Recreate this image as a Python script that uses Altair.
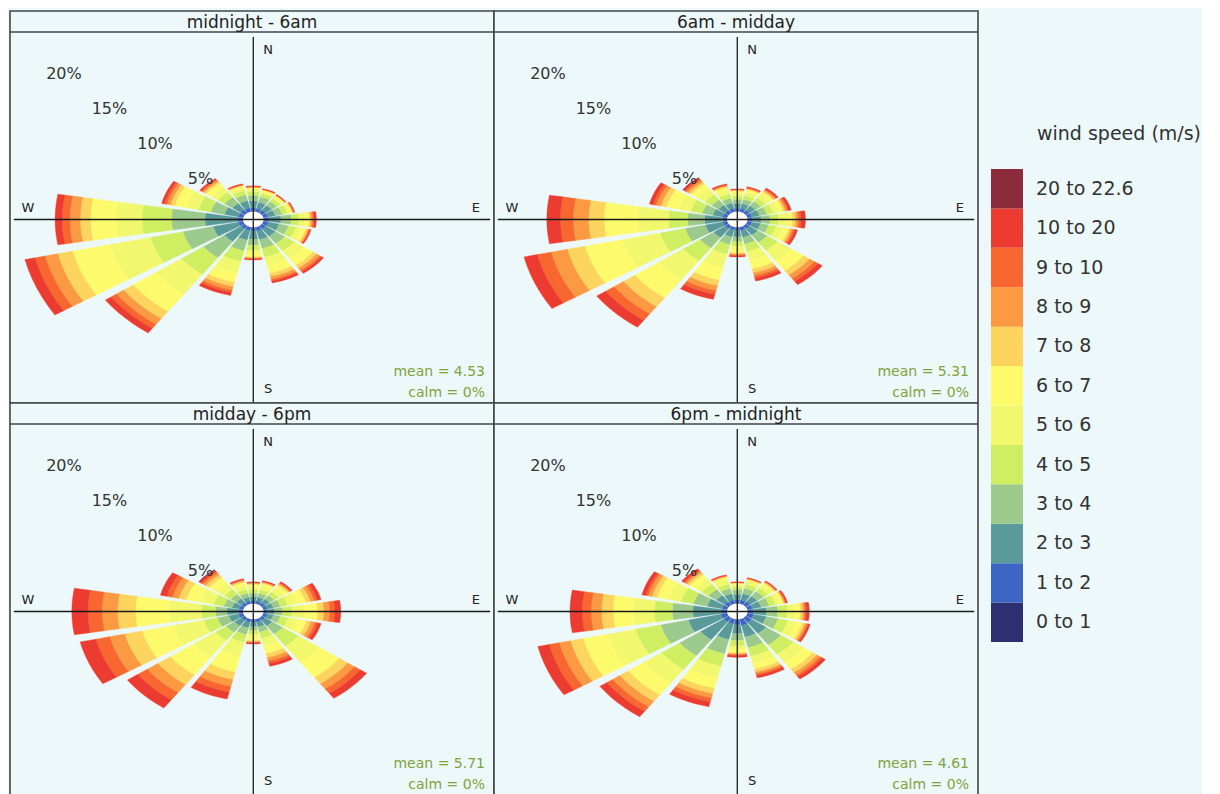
import altair as alt
import pandas as pd

# ---------------- data ----------------
panels = ["midnight - 6am", "6am - midday", "midday - 6pm", "6pm - midnight"]
means = [4.53, 5.31, 5.71, 4.61]
calms = [0, 0, 0, 0]
directions = [0, 22.5, 45, 67.5, 90, 112.5, 135, 157.5, 180, 202.5, 225, 247.5, 270, 292.5, 315, 337.5]
speed_bins = ["0 to 1", "1 to 2", "2 to 3", "3 to 4", "4 to 5", "5 to 6", "6 to 7",
              "7 to 8", "8 to 9", "9 to 10", "10 to 20", "20 to 22.6"]
bin_colours = ["#2e2f70", "#3d66c4", "#5b9a9b", "#9cc98c", "#d0ee62", "#f2f86e", "#fdfb6c",
               "#fdd55e", "#fb9a42", "#f7672f", "#ec3b30", "#8c2b3b"]
grid_pct = [5, 10, 15, 20]
compass = ["N", "E", "S", "W"]
compass_bearing = [0, 90, 180, 270]

# % frequency per direction (rows follow `directions`) and speed bin (columns follow `speed_bins`)
freq_p1 = [
    [0.05, 0.35, 0.70, 0.55, 0.40, 0.25, 0.12, 0.06, 0.04, 0.03, 0.05, 0],
    [0.05, 0.30, 0.65, 0.55, 0.35, 0.22, 0.12, 0.05, 0.04, 0.03, 0.04, 0],
    [0.05, 0.30, 0.60, 0.50, 0.35, 0.22, 0.12, 0.05, 0.04, 0.03, 0.04, 0],
    [0.05, 0.30, 0.60, 0.55, 0.40, 0.25, 0.14, 0.06, 0.05, 0.04, 0.06, 0],
    [0.05, 0.40, 0.90, 0.80, 0.60, 0.45, 0.35, 0.15, 0.12, 0.10, 0.18, 0],
    [0.05, 0.35, 0.85, 0.75, 0.60, 0.45, 0.35, 0.14, 0.10, 0.07, 0.09, 0],
    [0.05, 0.35, 0.90, 0.90, 0.90, 0.95, 0.85, 0.35, 0.28, 0.17, 0.20, 0],
    [0.05, 0.35, 0.90, 0.90, 0.90, 0.90, 0.80, 0.35, 0.28, 0.17, 0.20, 0],
    [0.05, 0.35, 0.80, 0.60, 0.50, 0.40, 0.30, 0.10, 0.07, 0.05, 0.08, 0],
    [0.05, 0.30, 1.00, 1.10, 1.10, 1.20, 1.00, 0.45, 0.35, 0.25, 0.30, 0],
    [0.05, 0.30, 1.60, 2.00, 2.10, 2.40, 2.20, 0.90, 0.70, 0.50, 0.55, 0],
    [0.05, 0.35, 2.00, 2.40, 2.60, 3.20, 3.00, 1.20, 1.00, 0.80, 0.80, 0],
    [0.05, 0.40, 2.50, 2.60, 2.30, 2.00, 2.00, 0.80, 0.80, 0.60, 0.55, 0],
    [0.05, 0.35, 1.10, 1.10, 1.00, 1.00, 0.85, 0.35, 0.28, 0.20, 0.22, 0],
    [0.05, 0.35, 0.80, 0.75, 0.65, 0.60, 0.50, 0.20, 0.15, 0.10, 0.15, 0],
    [0.05, 0.35, 0.75, 0.60, 0.45, 0.30, 0.18, 0.07, 0.05, 0.04, 0.06, 0],
]
freq_p2 = [
    [0.05, 0.30, 0.50, 0.40, 0.35, 0.30, 0.20, 0.07, 0.05, 0.03, 0.05, 0],
    [0.05, 0.30, 0.50, 0.45, 0.40, 0.35, 0.25, 0.10, 0.07, 0.05, 0.08, 0],
    [0.05, 0.30, 0.55, 0.55, 0.45, 0.40, 0.30, 0.15, 0.12, 0.10, 0.13, 0],
    [0.05, 0.30, 0.60, 0.60, 0.50, 0.45, 0.35, 0.18, 0.15, 0.12, 0.20, 0],
    [0.05, 0.30, 0.70, 0.70, 0.65, 0.60, 0.50, 0.25, 0.20, 0.20, 0.35, 0],
    [0.05, 0.30, 0.70, 0.65, 0.60, 0.55, 0.45, 0.20, 0.15, 0.15, 0.20, 0],
    [0.05, 0.30, 0.80, 0.90, 1.00, 1.30, 1.20, 0.55, 0.45, 0.35, 0.40, 0],
    [0.05, 0.30, 0.70, 0.70, 0.80, 0.90, 0.90, 0.40, 0.30, 0.25, 0.30, 0],
    [0.05, 0.30, 0.60, 0.50, 0.45, 0.40, 0.30, 0.12, 0.10, 0.08, 0.10, 0],
    [0.05, 0.25, 0.70, 0.80, 1.00, 1.40, 1.30, 0.60, 0.50, 0.40, 0.50, 0],
    [0.05, 0.30, 1.10, 1.30, 1.60, 2.30, 2.30, 1.10, 0.90, 0.80, 0.85, 0],
    [0.05, 0.30, 1.40, 1.60, 2.00, 3.00, 3.00, 1.40, 1.30, 1.10, 1.05, 0],
    [0.05, 0.30, 1.40, 1.30, 1.50, 2.40, 2.60, 1.20, 1.20, 1.00, 1.05, 0],
    [0.05, 0.30, 0.80, 0.85, 0.90, 1.00, 0.95, 0.45, 0.35, 0.25, 0.30, 0],
    [0.05, 0.30, 0.65, 0.65, 0.65, 0.70, 0.60, 0.25, 0.20, 0.15, 0.15, 0.05],
    [0.05, 0.30, 0.55, 0.50, 0.45, 0.40, 0.30, 0.12, 0.08, 0.06, 0.09, 0],
]
freq_p3 = [
    [0.05, 0.25, 0.40, 0.35, 0.35, 0.30, 0.25, 0.10, 0.06, 0.04, 0.05, 0],
    [0.05, 0.25, 0.40, 0.40, 0.35, 0.35, 0.30, 0.11, 0.07, 0.05, 0.07, 0],
    [0.05, 0.25, 0.45, 0.45, 0.45, 0.45, 0.35, 0.15, 0.10, 0.08, 0.12, 0],
    [0.05, 0.25, 0.50, 0.55, 0.60, 0.75, 0.70, 0.35, 0.30, 0.25, 0.30, 0],
    [0.05, 0.25, 0.55, 0.60, 0.75, 1.00, 1.00, 0.50, 0.45, 0.40, 0.45, 0],
    [0.05, 0.25, 0.50, 0.55, 0.65, 0.75, 0.70, 0.35, 0.30, 0.22, 0.28, 0],
    [0.05, 0.25, 0.70, 1.00, 1.50, 2.00, 1.90, 0.80, 0.65, 0.55, 0.60, 0],
    [0.05, 0.25, 0.50, 0.55, 0.65, 0.80, 0.80, 0.40, 0.35, 0.25, 0.30, 0],
    [0.05, 0.25, 0.45, 0.40, 0.35, 0.35, 0.30, 0.12, 0.08, 0.06, 0.09, 0],
    [0.05, 0.25, 0.60, 0.70, 0.80, 1.50, 1.60, 0.80, 0.70, 0.60, 0.70, 0],
    [0.05, 0.25, 0.70, 0.80, 1.00, 2.10, 2.20, 1.20, 1.00, 0.90, 1.00, 0],
    [0.05, 0.30, 0.80, 0.90, 1.10, 2.40, 2.50, 1.40, 1.20, 1.10, 1.25, 0],
    [0.05, 0.30, 0.90, 0.90, 1.10, 2.50, 2.60, 1.40, 1.20, 1.10, 1.25, 0],
    [0.05, 0.25, 0.60, 0.65, 0.80, 1.10, 1.10, 0.60, 0.50, 0.45, 0.50, 0],
    [0.05, 0.25, 0.50, 0.55, 0.60, 0.75, 0.70, 0.35, 0.25, 0.15, 0.20, 0.05],
    [0.05, 0.25, 0.40, 0.40, 0.40, 0.40, 0.33, 0.14, 0.09, 0.06, 0.08, 0],
]
freq_p4 = [
    [0.05, 0.35, 0.55, 0.45, 0.30, 0.22, 0.14, 0.06, 0.03, 0.02, 0.03, 0],
    [0.05, 0.35, 0.65, 0.55, 0.40, 0.30, 0.20, 0.08, 0.05, 0.03, 0.04, 0],
    [0.05, 0.35, 0.70, 0.60, 0.45, 0.35, 0.22, 0.10, 0.07, 0.05, 0.06, 0],
    [0.05, 0.35, 0.70, 0.65, 0.50, 0.35, 0.25, 0.10, 0.08, 0.06, 0.11, 0],
    [0.05, 0.40, 1.00, 0.90, 0.75, 0.55, 0.45, 0.20, 0.15, 0.12, 0.23, 0],
    [0.05, 0.45, 1.00, 0.95, 0.80, 0.65, 0.50, 0.20, 0.15, 0.10, 0.15, 0],
    [0.05, 0.50, 1.40, 1.40, 1.20, 1.00, 0.85, 0.40, 0.30, 0.20, 0.30, 0],
    [0.05, 0.60, 1.20, 1.10, 0.90, 0.75, 0.60, 0.30, 0.20, 0.15, 0.25, 0],
    [0.05, 0.50, 0.90, 0.70, 0.55, 0.40, 0.30, 0.12, 0.08, 0.07, 0.18, 0],
    [0.05, 0.45, 1.60, 1.50, 1.30, 1.20, 1.10, 0.55, 0.45, 0.40, 0.50, 0],
    [0.05, 0.45, 2.20, 2.00, 1.70, 1.70, 1.50, 0.80, 0.70, 0.55, 0.65, 0],
    [0.05, 0.45, 2.60, 2.20, 2.00, 2.20, 2.00, 1.00, 0.90, 0.80, 0.90, 0],
    [0.05, 0.40, 2.20, 1.60, 1.40, 1.60, 1.60, 0.90, 0.80, 0.70, 0.95, 0],
    [0.05, 0.35, 1.20, 1.10, 1.00, 1.00, 0.90, 0.40, 0.30, 0.20, 0.30, 0],
    [0.05, 0.35, 0.80, 0.75, 0.65, 0.60, 0.55, 0.25, 0.17, 0.13, 0.20, 0],
    [0.05, 0.35, 0.65, 0.55, 0.45, 0.40, 0.30, 0.10, 0.06, 0.04, 0.05, 0],
]
freq_tables = [freq_p1, freq_p2, freq_p3, freq_p4]

rows = []
for p, table in zip(panels, freq_tables):
    for d, row in zip(directions, table):
        for b, (label, v) in enumerate(zip(speed_bins, row)):
            rows.append({"panel": p, "dir": d, "bin_index": b, "bin_label": label, "pct": v})
wind = pd.DataFrame(rows)

# ---------------- styling / geometry constants ----------------
FONT = "DejaVu Sans"
BG = "#edf8fb"
FRAME = "#454545"
W, H = 484, 392
STRIP = 21
XD = [-18.9, 18.7]
YD = [-18.6, 21.13]
OFF = 0.8        # calm-circle offset (in % units)
HW = 9.6         # half angular width of a wedge (deg)
NP = 7           # points per arc

xs = alt.Scale(domain=XD, nice=False, zero=False)
ys = alt.Scale(domain=YD, nice=False, zero=False)
colour_scale = alt.Scale(domain=speed_bins, range=bin_colours)


def panel(i):
    name = panels[i]
    X = alt.X("x:Q", scale=xs, axis=None)
    Y = alt.Y("y:Q", scale=ys, axis=None)

    wedges = (
        alt.Chart(wind)
        .transform_filter(alt.datum.panel == name)
        .transform_window(cum="sum(pct)", groupby=["dir"],
                          sort=[alt.SortField("bin_index")], frame=[None, 0])
        .transform_filter("datum.pct > 0")
        .transform_calculate(hi=f"{OFF} + datum.cum")
        .transform_calculate(lo="datum.hi - datum.pct")
        .transform_calculate(ks=f"sequence(0, {2 * NP})")
        .transform_flatten(["ks"], as_=["k"])
        .transform_calculate(j=f"datum.k < {NP} ? datum.k : {2 * NP - 1} - datum.k")
        .transform_calculate(r=f"datum.k < {NP} ? datum.hi : datum.lo")
        .transform_calculate(th=f"(datum.dir - {HW} + datum.j * {2 * HW / (NP - 1)}) * PI / 180")
        .transform_calculate(x="datum.r * sin(datum.th)")
        .transform_calculate(y="datum.r * cos(datum.th)")
        .transform_calculate(wid="datum.dir + '_' + datum.bin_index")
        .mark_line(filled=True, interpolate="linear-closed", strokeWidth=0.4)
        .encode(
            x=X, y=Y,
            color=alt.Color("bin_label:N", scale=colour_scale, legend=None),
            stroke=alt.Stroke("bin_label:N", scale=colour_scale, legend=None),
            detail="wid:N",
            order="k:Q",
        )
    )

    hole = (
        alt.Chart(pd.DataFrame({"calm": [calms[i]]}))
        .transform_calculate(ks="sequence(0, 48)")
        .transform_flatten(["ks"], as_=["k"])
        .transform_calculate(x=f"{OFF} * sin(datum.k * PI / 24)")
        .transform_calculate(y=f"{OFF} * cos(datum.k * PI / 24)")
        .mark_line(filled=True, interpolate="linear-closed", color="white", strokeWidth=0)
        .encode(x=X, y=Y, order="k:Q")
    )

    cross = pd.DataFrame({"x": [0, -18.6], "y": [-18.5, 0], "x2": [0, 18.4], "y2": [18.5, 0]})
    rules = alt.Chart(cross).mark_rule(color="#1a1a1a", strokeWidth=1.3).encode(
        x=X, y=Y, x2="x2:Q", y2="y2:Q")

    comp = (
        alt.Chart(pd.DataFrame({"lab": compass, "b": compass_bearing}))
        .transform_calculate(x="datum.b == 0 || datum.b == 180 ? 1.15 : (datum.b == 90 ? 17.3 : -17.5)")
        .transform_calculate(y="datum.b == 0 ? 17.2 : (datum.b == 180 ? -17.2 : 1.2)")
        .mark_text(font=FONT, fontSize=13, color="#222")
        .encode(x=X, y=Y, text="lab:N")
    )

    pct = (
        alt.Chart(pd.DataFrame({"g": grid_pct}))
        .transform_calculate(x=f"-(datum.g + {OFF}) * sin(PI / 4)")
        .transform_calculate(y=f"(datum.g + {OFF}) * cos(PI / 4)")
        .transform_calculate(label="datum.g + '%'")
        .mark_text(font=FONT, fontSize=16, color="#333")
        .encode(x=X, y=Y, text="label:N")
    )

    strip = alt.Chart(pd.DataFrame({"t": [name]})).mark_rule(color=FRAME, strokeWidth=1.5).encode(
        x=alt.value(0), x2=alt.value(W), y=alt.value(STRIP))
    title = alt.Chart(pd.DataFrame({"t": [name]})).mark_text(
        font=FONT, fontSize=17, color="#222", baseline="alphabetic").encode(
        x=alt.value(W / 2), y=alt.value(17), text="t:N")

    mean_t = alt.Chart(pd.DataFrame({"t": [f"mean = {means[i]:.2f}"]})).mark_text(
        font=FONT, fontSize=14, color="#7fa33c", align="right").encode(
        x=alt.value(W - 9), y=alt.value(361), text="t:N")
    calm_t = alt.Chart(pd.DataFrame({"t": [f"calm = {calms[i]}%"]})).mark_text(
        font=FONT, fontSize=14, color="#7fa33c", align="right").encode(
        x=alt.value(W - 9), y=alt.value(382), text="t:N")

    return alt.layer(wedges, hole, rules, comp, pct, strip, title, mean_t, calm_t).properties(
        width=W, height=H)


# ---------------- legend ----------------
leg_df = pd.DataFrame({"bin_label": speed_bins})
leg_y = alt.Y("bin_label:N", sort=list(reversed(speed_bins)),
              scale=alt.Scale(range=[158, 631], paddingInner=0, paddingOuter=0), axis=None)
swatches = alt.Chart(leg_df).mark_rect().encode(
    x=alt.value(10), x2=alt.value(42), y=leg_y,
    color=alt.Color("bin_label:N", scale=colour_scale, legend=None))
leg_labels = alt.Chart(leg_df).mark_text(font=FONT, fontSize=19, color="#333", align="left").encode(
    x=alt.value(55), y=leg_y, text="bin_label:N")
leg_title = alt.Chart(pd.DataFrame({"t": ["wind speed (m/s)"]})).mark_text(
    font=FONT, fontSize=19, color="#333").encode(x=alt.value(138), y=alt.value(123), text="t:N")
legend_chart = alt.layer(swatches, leg_labels, leg_title).properties(
    width=200, height=784, view=alt.ViewBackground(stroke="transparent"))

grid = alt.concat(panel(0), panel(1), panel(2), panel(3), columns=2, spacing=0, bounds="flush")

chart = (
    alt.hconcat(grid, legend_chart, spacing=0)
    .properties(padding={"left": 0, "top": 2, "right": 0, "bottom": 0}, background=BG)
    .configure_view(stroke=FRAME, strokeWidth=1.6, fill=BG)
)

chart.save("out.html", embed_options={"renderer": "svg", "actions": False})
